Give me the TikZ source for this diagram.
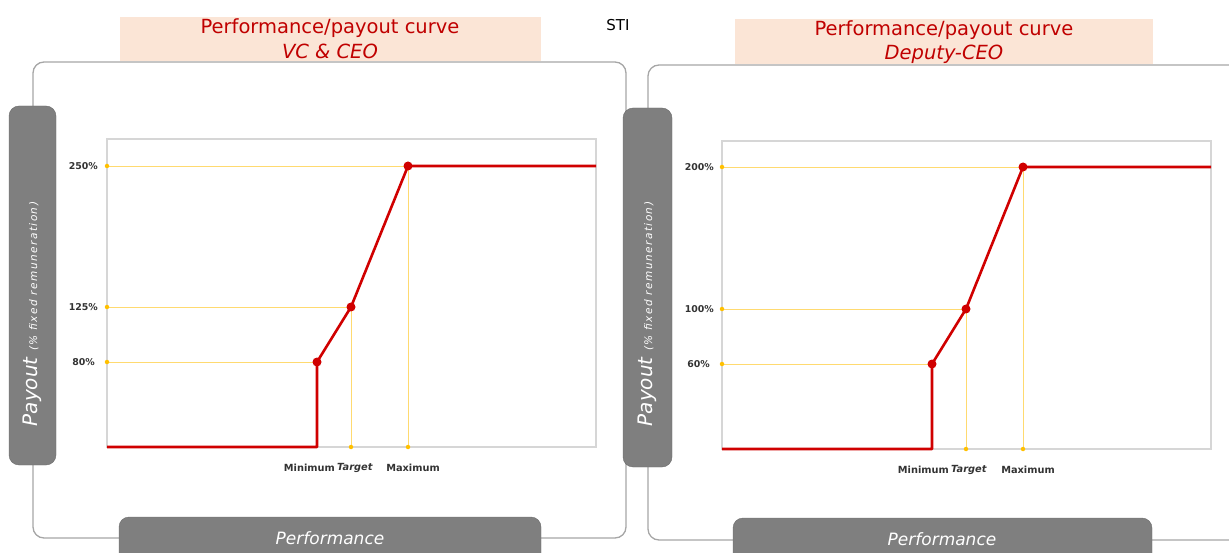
\documentclass[tikz,border=0pt]{standalone}
\usepackage{fontspec}
\setmainfont{DejaVu Sans}
\definecolor{boxgray}{HTML}{7F7F7F}
\definecolor{panelgray}{HTML}{A6A6A6}
\definecolor{peach}{HTML}{FBE5D6}
\definecolor{titlered}{HTML}{C00000}
\definecolor{curvered}{HTML}{D00000}
\definecolor{guideyellow}{HTML}{FFDA70}
\definecolor{dotyellow}{HTML}{FFC000}
\definecolor{framegray}{HTML}{D6D6D6}
\definecolor{labelgray}{HTML}{333333}
\begin{document}
\begin{tikzpicture}[x=1pt,y=-1pt,
  panel/.style={draw=panelgray, line width=1.3pt, rounded corners=11pt},
  graybox/.style={fill=boxgray, draw=boxgray!85!black, line width=0.4pt, rounded corners=10pt},
  titlebox/.style={fill=peach, draw=none},
  titletext/.style={text=titlered, font=\fontsize{19.5}{21}\selectfont, inner sep=0pt},
  curve/.style={draw=curvered, line width=2.6pt, line join=round},
  guide/.style={draw=guideyellow, line width=0.7pt},
  reddot/.style={circle, fill=curvered, inner sep=0pt, minimum size=9pt},
  ydot/.style={circle, fill=dotyellow, inner sep=0pt, minimum size=4.5pt},
  chartframe/.style={draw=framegray, line width=1.2pt},
  ticklabel/.style={text=labelgray, font=\bfseries\fontsize{9.4}{11}\selectfont, inner sep=0pt},
  xlabel/.style={text=labelgray, font=\bfseries\fontsize{9.8}{11}\selectfont, inner sep=0pt},
  axislabel/.style={text=white, inner sep=0pt}
]
\useasboundingbox (0,0) rectangle (1229,553);
\clip (0,0) rectangle (1229,553);

% ---------------- panels ----------------
\draw[panel] (33,62) rectangle (626,538);
\draw[panel] (648,65) rectangle (1250,540);

% title boxes
\fill[titlebox] (120,17) rectangle (541,61);
\fill[titlebox] (735,19) rectangle (1153,64);
\node[titletext] (t1a) at (330,28) {Performance/payout curve};
\node[titletext] (t1b) at (330,51) {\itshape VC \& CEO};
\node[titletext] (t2a) at (944,30) {Performance/payout curve};
\node[titletext] (t2b) at (944,54) {\itshape Deputy-CEO};
\node[inner sep=0pt, font=\fontsize{15}{17}\selectfont] (sti) at (618,25) {STI};

% gray axis boxes
\draw[graybox] (9,106) rectangle (56,465);
\node[axislabel, rotate=90] (ly) at (32,314) {\itshape\fontsize{20}{22}\selectfont Payout\ \fontsize{10.5}{12}\selectfont\addfontfeatures{LetterSpace=14}(\% fixed remuneration)};
\draw[graybox] (119,517) rectangle (541,570);
\node[axislabel, font=\itshape\fontsize{17}{19}\selectfont] (lx) at (330,538) {Performance};

\draw[graybox] (623,108) rectangle (672,467);
\node[axislabel, rotate=90] (ry) at (647,314) {\itshape\fontsize{20}{22}\selectfont Payout\ \fontsize{10.5}{12}\selectfont\addfontfeatures{LetterSpace=14}(\% fixed remuneration)};
\draw[graybox] (733,518) rectangle (1152,570);
\node[axislabel, font=\itshape\fontsize{17}{19}\selectfont] (rx) at (942,539) {Performance};

% ---------------- left chart ----------------
\draw[chartframe] (107,139) rectangle (596,447);
\coordinate (Lo) at (107,447);
\coordinate (Lmb) at (317,447);
\coordinate (Lmin) at (317,362);
\coordinate (Ltgt) at (351,307);
\coordinate (Lmax) at (408,166);
\coordinate (Lend) at (596,166);
\coordinate (Ly1) at (107,362);
\coordinate (Ly2) at (107,307);
\coordinate (Ly3) at (107,166);
\coordinate (Lxt) at (351,447);
\coordinate (Lxm) at (408,447);
\draw[guide] (Ly1) -- (Lmin);
\draw[guide] (Ly2) -- (Ltgt) -- (Lxt);
\draw[guide] (Ly3) -- (Lmax) -- (Lxm);
\node[ydot] at (Ly1) {};
\node[ydot] at (Ly2) {};
\node[ydot] at (Ly3) {};
\node[ydot] at (Lxt) {};
\node[ydot] at (Lxm) {};
\draw[curve] (Lo) -- (Lmb) -- (Lmin) -- (Ltgt) -- (Lmax) -- (Lend);
\node[reddot] at (Lmin) {};
\node[reddot] at (Ltgt) {};
\node[reddot] at (Lmax) {};
\node[ticklabel, anchor=east] (l250) at (98,166) {250\%};
\node[ticklabel, anchor=east] (l125) at (98,307) {125\%};
\node[ticklabel, anchor=east] (l80) at (95,362) {80\%};
\node[xlabel, anchor=east] (lmin) at (335,468) {Minimum};
\node[xlabel, anchor=west] (ltgt) at (337,468) {\itshape Target};
\node[xlabel] (lmax) at (413,468) {Maximum};

% ---------------- right chart ----------------
\draw[chartframe] (722,141) rectangle (1211,449);
\coordinate (Ro) at (722,449);
\coordinate (Rmb) at (932,449);
\coordinate (Rmin) at (932,364);
\coordinate (Rtgt) at (966,309);
\coordinate (Rmax) at (1023,167);
\coordinate (Rend) at (1211,167);
\coordinate (Ry1) at (722,364);
\coordinate (Ry2) at (722,309);
\coordinate (Ry3) at (722,167);
\coordinate (Rxt) at (966,449);
\coordinate (Rxm) at (1023,449);
\draw[guide] (Ry1) -- (Rmin);
\draw[guide] (Ry2) -- (Rtgt) -- (Rxt);
\draw[guide] (Ry3) -- (Rmax) -- (Rxm);
\node[ydot] at (Ry1) {};
\node[ydot] at (Ry2) {};
\node[ydot] at (Ry3) {};
\node[ydot] at (Rxt) {};
\node[ydot] at (Rxm) {};
\draw[curve] (Ro) -- (Rmb) -- (Rmin) -- (Rtgt) -- (Rmax) -- (Rend);
\node[reddot] at (Rmin) {};
\node[reddot] at (Rtgt) {};
\node[reddot] at (Rmax) {};
\node[ticklabel, anchor=east] (r200) at (714,167) {200\%};
\node[ticklabel, anchor=east] (r100) at (714,309) {100\%};
\node[ticklabel, anchor=east] (r60) at (710,364) {60\%};
\node[xlabel, anchor=east] (rmin) at (949,470) {Minimum};
\node[xlabel, anchor=west] (rtgt) at (951,470) {\itshape Target};
\node[xlabel] (rmax) at (1028,470) {Maximum};
\end{tikzpicture}
\end{document}
